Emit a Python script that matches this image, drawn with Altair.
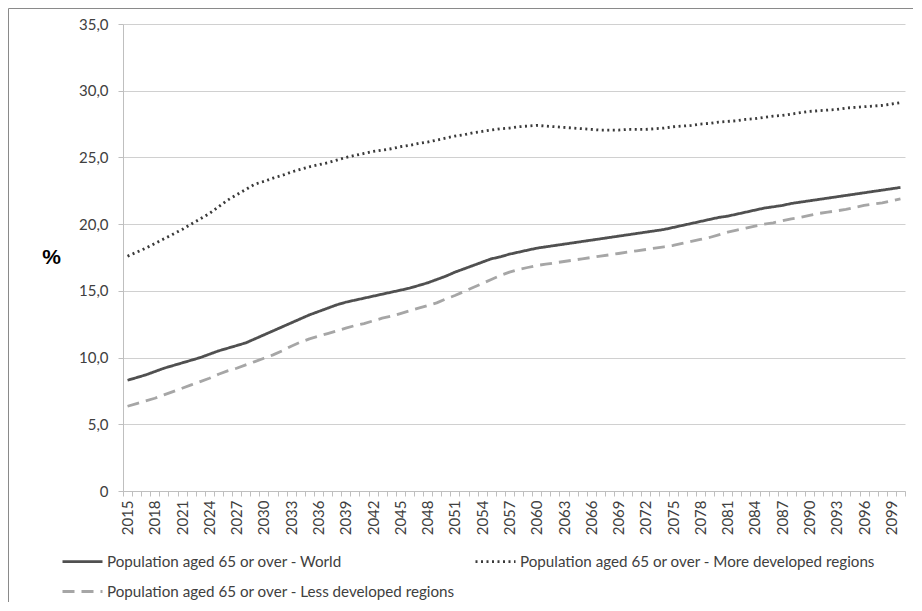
import altair as alt
import pandas as pd

years = list(range(2015, 2101))

world = [8.3, 8.5, 8.7, 8.95, 9.2, 9.4, 9.6, 9.8, 10.0, 10.25,
         10.5, 10.7, 10.9, 11.1, 11.4, 11.7, 12.0, 12.3, 12.6, 12.9,
         13.2, 13.45, 13.7, 13.95, 14.15, 14.3, 14.45, 14.6, 14.75, 14.9,
         15.05, 15.2, 15.4, 15.6, 15.85, 16.1, 16.4, 16.65, 16.9, 17.15,
         17.4, 17.55, 17.75, 17.9, 18.05, 18.2, 18.3, 18.4, 18.5, 18.6,
         18.7, 18.8, 18.9, 19.0, 19.1, 19.2, 19.3, 19.4, 19.5, 19.6,
         19.75, 19.9, 20.05, 20.2, 20.35, 20.5, 20.6, 20.75, 20.9, 21.05,
         21.2, 21.3, 21.4, 21.55, 21.65, 21.75, 21.85, 21.95, 22.05, 22.15,
         22.25, 22.35, 22.45, 22.55, 22.65, 22.75]

more_developed = [17.6, 17.9, 18.2, 18.55, 18.9, 19.25, 19.6, 20.0, 20.4, 20.8,
                  21.3, 21.8, 22.2, 22.6, 23.0, 23.2, 23.45, 23.65, 23.9, 24.1,
                  24.3, 24.45, 24.6, 24.8, 25.0, 25.15, 25.3, 25.45, 25.55, 25.65,
                  25.8, 25.9, 26.05, 26.15, 26.3, 26.45, 26.6, 26.7, 26.85, 26.95,
                  27.05, 27.15, 27.2, 27.3, 27.35, 27.4, 27.35, 27.3, 27.25, 27.2,
                  27.15, 27.1, 27.05, 27.05, 27.05, 27.1, 27.1, 27.1, 27.15, 27.2,
                  27.3, 27.35, 27.4, 27.5, 27.55, 27.65, 27.7, 27.75, 27.85, 27.9,
                  28.0, 28.1, 28.15, 28.25, 28.35, 28.45, 28.5, 28.55, 28.6, 28.7,
                  28.75, 28.8, 28.85, 28.9, 29.0, 29.1]

less_developed = [6.35, 6.55, 6.75, 6.95, 7.2, 7.45, 7.7, 7.95, 8.2, 8.45,
                  8.75, 9.0, 9.2, 9.45, 9.7, 9.95, 10.2, 10.5, 10.85, 11.15,
                  11.4, 11.6, 11.8, 12.0, 12.2, 12.4, 12.55, 12.75, 12.95, 13.1,
                  13.3, 13.5, 13.7, 13.9, 14.1, 14.4, 14.65, 14.95, 15.25, 15.55,
                  15.85, 16.15, 16.4, 16.6, 16.75, 16.9, 17.0, 17.1, 17.2, 17.3,
                  17.4, 17.5, 17.6, 17.7, 17.8, 17.9, 18.0, 18.1, 18.2, 18.3,
                  18.4, 18.55, 18.7, 18.85, 19.0, 19.2, 19.4, 19.55, 19.7, 19.85,
                  20.0, 20.1, 20.25, 20.4, 20.5, 20.65, 20.8, 20.9, 21.0, 21.1,
                  21.25, 21.4, 21.5, 21.6, 21.75, 21.9]

name_world = "Population aged 65 or over - World"
name_more = "Population aged 65 or over - More developed regions"
name_less = "Population aged 65 or over - Less developed regions"
y_ticks = [0, 5, 10, 15, 20, 25, 30, 35]

rows = []
for name, vals in [(name_world, world), (name_more, more_developed), (name_less, less_developed)]:
    for yr, v in zip(years, vals):
        rows.append({"year": yr, "value": v, "series": name})
df = pd.DataFrame(rows)

# legend is filled column by column: World / Less in the first column, More in the second
legend_order = [name_world, name_less, name_more]

FONT = "Lato"
legend = alt.Legend(
    title=None, orient="none", legendX=-62, legendY=516, columns=2,
    columnPadding=14, rowPadding=-12, symbolType="stroke", symbolSize=1600,
    labelFont=FONT, labelFontSize=15.2, labelColor="#404040", labelLimit=600,
    labelOffset=3, padding=0,
)

lines = alt.Chart(df).mark_line(strokeCap="butt", strokeJoin="round").encode(
    x=alt.X("year:O", scale=alt.Scale(paddingInner=0, paddingOuter=0),
            axis=alt.Axis(title=None, labelAngle=-90, labelOverlap=False,
                          labelExpr="(datum.value - 2015) % 3 == 0 ? '' + datum.value : ''",
                          tickBand="extent", tickSize=5, labelPadding=4, grid=False)),
    y=alt.Y("value:Q", scale=alt.Scale(domain=[0, 35], nice=False),
            axis=alt.Axis(values=y_ticks, title="%", titleAngle=0, titleX=-72, titleY=233,
                          titleAlign="center", titleBaseline="middle", titleFontSize=21,
                          titleFont="Liberation Sans", titleFontWeight="bold", titleColor="#000000",
                          labelExpr="datum.value == 0 ? '0' : replace(format(datum.value, '.1f'), '.', ',')",
                          tickSize=5, labelPadding=10, grid=True)),
    color=alt.Color("series:N", scale=alt.Scale(domain=legend_order, range=["#505050", "#a6a6a6", "#3a3a3a"]),
                    legend=legend),
    strokeDash=alt.StrokeDash("series:N", scale=alt.Scale(domain=legend_order, range=[[1, 0], [12, 7], [2, 3.5]]),
                              legend=legend),
    strokeWidth=alt.StrokeWidth("series:N", scale=alt.Scale(domain=legend_order, range=[2.8, 2.8, 2.2]),
                                legend=legend),
)

frame = alt.Chart(alt.Data(values=[{"a": 1}])).mark_rect(fill="transparent", stroke="#8a8a8a", strokeWidth=1).encode(
    x=alt.value(-114.5), x2=alt.value(900), y=alt.value(-15.5), y2=alt.value(800)
)

chart = alt.layer(frame, lines).properties(
    width=782, height=467,
    padding={"left": 115, "top": 16, "right": 8, "bottom": 111},
    autosize=alt.AutoSizeParams(type="none"),
).configure_view(stroke=None).configure_axis(
    domainColor="#bfbfbf", tickColor="#bfbfbf", gridColor="#d0d0d0",
    labelColor="#404040", labelFont=FONT, labelFontSize=15,
)

chart.save("out.html", embed_options={"renderer": "svg", "actions": False})
